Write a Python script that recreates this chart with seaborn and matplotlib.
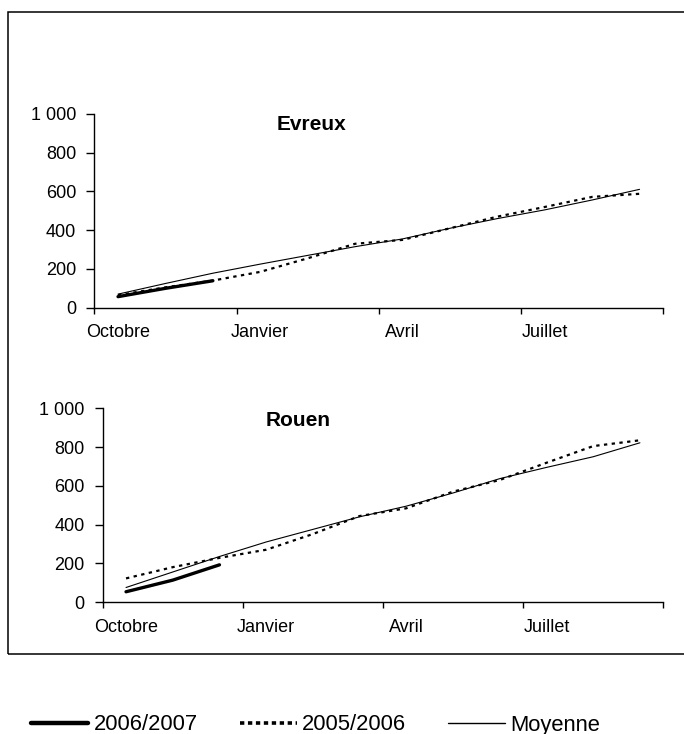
import numpy as np
import matplotlib
matplotlib.use('Agg')
import matplotlib.pyplot as plt
import seaborn as sns
from matplotlib.patches import Rectangle
from matplotlib.lines import Line2D

# Mois de la campagne (octobre -> septembre)
mois = ['Oct', 'Nov', 'Déc', 'Jan', 'Fév', 'Mar', 'Avr', 'Mai', 'Juin', 'Juil', 'Août', 'Sep']
trimestres = ['Octobre', 'Janvier', 'Avril', 'Juillet']
y_ticks = [0, 200, 400, 600, 800, 1000]
y_labels = ['0', '200', '400', '600', '800', '1 000']

# Evreux
evreux_0607 = [57, 100, 139]
evreux_0506 = [65, 105, 140, 185, 255, 330, 350, 410, 470, 520, 572, 588]
evreux_moy = [70, 125, 178, 225, 270, 315, 355, 410, 460, 505, 556, 611]

# Rouen
rouen_0607 = [53, 113, 192]
rouen_0506 = [122, 180, 228, 270, 351, 444, 484, 570, 630, 719, 805, 835]
rouen_moy = [75, 155, 235, 310, 375, 440, 495, 563, 637, 695, 750, 822]

sns.set_style('ticks')
plt.rcParams['font.family'] = ['Liberation Sans', 'DejaVu Sans']
plt.rcParams['text.color'] = 'black'
plt.rcParams['xtick.color'] = 'black'
plt.rcParams['ytick.color'] = 'black'
plt.rcParams['axes.labelcolor'] = 'black'

fig = plt.figure(figsize=(6.84, 7.34), dpi=100)
ax1 = fig.add_axes([0.1379, 0.5808, 0.8318, 0.2639])
ax2 = fig.add_axes([0.1501, 0.1798, 0.8196, 0.2639])

x = np.arange(len(mois)) + 0.5
pointille = (0, (1.5, 2))


def trace(ax, s0607, s0506, moy):
    sns.lineplot(x=x, y=moy, ax=ax, color='black', linewidth=0.8, errorbar=None)
    sns.lineplot(x=x, y=s0506, ax=ax, color='black', linewidth=1.6,
                 linestyle=pointille, errorbar=None)
    sns.lineplot(x=x[:len(s0607)], y=s0607, ax=ax, color='black',
                 linewidth=2.4, errorbar=None)
    ax.set_xlim(0, 12)
    ax.set_ylim(0, 1000)
    ax.set_xticks([0, 3, 6, 9, 12])
    ax.set_xticklabels([])
    ax.set_xticks(np.arange(4) * 3 + 0.5, minor=True)
    ax.set_xticklabels(trimestres, minor=True)
    ax.tick_params(axis='x', which='minor', length=0, pad=12, labelsize=13)
    ax.tick_params(axis='x', which='major', length=4, width=1, color='black')
    ax.set_yticks(y_ticks)
    ax.set_yticklabels(y_labels)
    ax.tick_params(axis='y', length=6, width=1, pad=7, labelsize=13, color='black')
    ax.set_xlabel('')
    ax.set_ylabel('')
    sns.despine(ax=ax)
    for sp in ['left', 'bottom']:
        ax.spines[sp].set_color('black')
        ax.spines[sp].set_linewidth(1.0)


trace(ax1, evreux_0607, evreux_0506, evreux_moy)
trace(ax2, rouen_0607, rouen_0506, rouen_moy)

fig.text(312 / 684, 1 - 125 / 734, 'Evreux', ha='center', va='center',
         fontsize=15, fontweight='bold', color='black')
fig.text(298 / 684, 1 - 420 / 734, 'Rouen', ha='center', va='center',
         fontsize=15, fontweight='bold', color='black')

# cadre autour des graphiques
fig.patches.append(Rectangle((8 / 684, 1 - 654 / 734), 1.0, 642 / 734,
                             transform=fig.transFigure, fill=False,
                             lw=1.1, ec='black'))

handles = [
    Line2D([], [], color='black', lw=3.2),
    Line2D([], [], color='black', lw=2.6, linestyle=(0, (1.2, 1.0))),
    Line2D([], [], color='black', lw=1.0),
]
fig.legend(handles, ['2006/2007', '2005/2006', 'Moyenne'], loc='center',
           bbox_to_anchor=(316 / 684, 1 - 725 / 734), ncol=3, frameon=False,
           fontsize=15.8, handlelength=2.6, handletextpad=0.25, columnspacing=1.9)

fig.savefig('out.png', dpi=100)
